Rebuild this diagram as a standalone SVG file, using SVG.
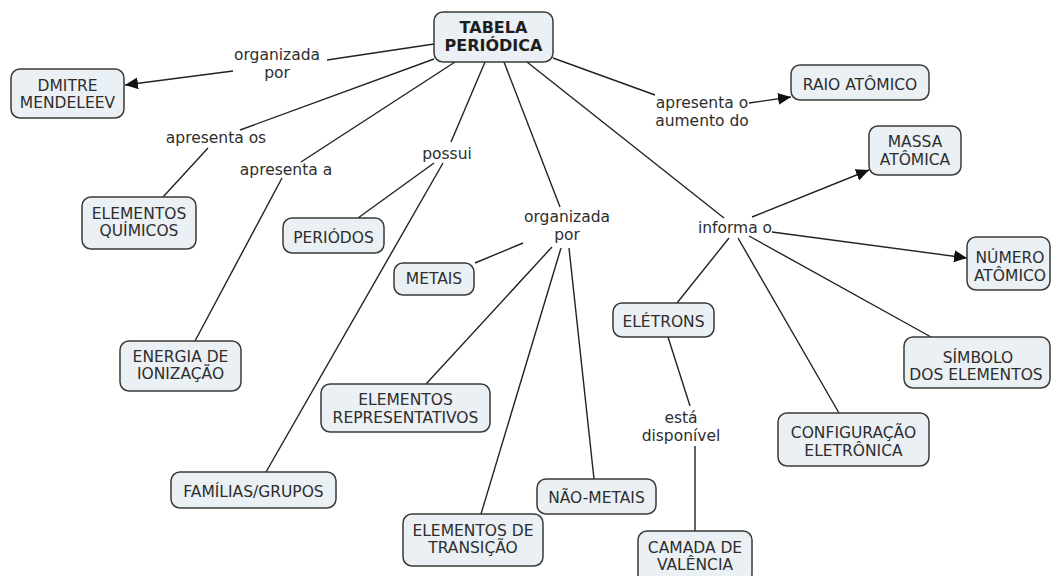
<svg xmlns="http://www.w3.org/2000/svg" width="1052" height="576" viewBox="0 0 1052 576">
  <style>
    .node rect { fill: #eaf0f3; stroke: #3a3a3a; stroke-width: 1.5; }
    .node text { font-family: "DejaVu Sans", Verdana, sans-serif; font-size: 15.5px; fill: #2e2e2e; text-anchor: middle; }
    .node.main text { font-weight: bold; font-size: 16px; fill: #1e1e1e; }
    .link line { stroke: #222; stroke-width: 1.4; fill: none; }
    .lbl { font-family: "DejaVu Sans", Verdana, sans-serif; font-size: 15.5px; fill: #2e2e2e; text-anchor: middle; }
  </style>
  <defs>
    <marker id="arrow" markerUnits="userSpaceOnUse" markerWidth="14" markerHeight="12" refX="13" refY="6" orient="auto">
      <path d="M0,0 L13,6 L0,12 z" fill="#111"/>
    </marker>
  </defs>
  <rect width="1052" height="576" fill="#ffffff"/>

  <!-- connectors -->
  <g id="connectors" class="link">
    <line x1="434" y1="44" x2="327" y2="60"/>
    <line x1="233" y1="71" x2="125" y2="85" marker-end="url(#arrow)"/>
    <line x1="434" y1="59" x2="240" y2="130"/>
    <line x1="208" y1="148" x2="163" y2="197"/>
    <line x1="455" y1="62" x2="301" y2="162"/>
    <line x1="282" y1="178" x2="195" y2="341"/>
    <line x1="485" y1="62" x2="451" y2="142"/>
    <line x1="434" y1="163" x2="358" y2="218"/>
    <line x1="443" y1="163" x2="266" y2="472"/>
    <line x1="504" y1="62" x2="560" y2="207"/>
    <line x1="523" y1="243" x2="475" y2="263"/>
    <line x1="552" y1="247" x2="426" y2="384"/>
    <line x1="561" y1="248" x2="481" y2="514"/>
    <line x1="569" y1="248" x2="594" y2="479"/>
    <line x1="527" y1="62" x2="724" y2="218"/>
    <line x1="752" y1="217" x2="869" y2="170" marker-end="url(#arrow)"/>
    <line x1="772" y1="232" x2="967" y2="258" marker-end="url(#arrow)"/>
    <line x1="729" y1="238" x2="677" y2="303"/>
    <line x1="749" y1="236" x2="931" y2="337"/>
    <line x1="738" y1="238" x2="839" y2="413"/>
    <line x1="553" y1="58" x2="655" y2="95"/>
    <line x1="749" y1="103" x2="791" y2="97" marker-end="url(#arrow)"/>
    <line x1="668" y1="337" x2="690" y2="406"/>
    <line x1="695" y1="446" x2="695" y2="531"/>
  </g>

  <!-- linking phrases -->
  <g id="labels">
    <text class="lbl" x="277" y="60">organizada</text>
    <text class="lbl" x="277" y="78">por</text>
    <text class="lbl" x="216" y="143">apresenta os</text>
    <text class="lbl" x="286" y="175">apresenta a</text>
    <text class="lbl" x="447" y="159">possui</text>
    <text class="lbl" x="567" y="222">organizada</text>
    <text class="lbl" x="567" y="240">por</text>
    <text class="lbl" x="735" y="233">informa o</text>
    <text class="lbl" x="702" y="108">apresenta o</text>
    <text class="lbl" x="702" y="126">aumento do</text>
    <text class="lbl" x="681" y="423">está</text>
    <text class="lbl" x="681" y="441">disponível</text>
  </g>

  <!-- concepts -->
  <g id="tabela-periodica" class="node main">
    <rect x="434" y="12" width="119" height="50" rx="9"/>
    <text x="493.5" y="33">TABELA</text>
    <text x="493.5" y="51">PERIÓDICA</text>
  </g>
  <g id="dmitre-mendeleev" class="node">
    <rect x="11" y="69" width="113" height="49" rx="9"/>
    <text x="67.5" y="91">DMITRE</text>
    <text x="67.5" y="108">MENDELEEV</text>
  </g>
  <g id="raio-atomico" class="node">
    <rect x="791" y="65" width="138" height="35" rx="9"/>
    <text x="860" y="90">RAIO ATÔMICO</text>
  </g>
  <g id="massa-atomica" class="node">
    <rect x="869" y="126" width="92" height="49" rx="9"/>
    <text x="915" y="147">MASSA</text>
    <text x="915" y="165">ATÔMICA</text>
  </g>
  <g id="elementos-quimicos" class="node">
    <rect x="82" y="197" width="114" height="52" rx="9"/>
    <text x="139" y="219">ELEMENTOS</text>
    <text x="139" y="236">QUÍMICOS</text>
  </g>
  <g id="periodos" class="node">
    <rect x="283" y="218" width="101" height="35" rx="9"/>
    <text x="333.5" y="243">PERIÓDOS</text>
  </g>
  <g id="metais" class="node">
    <rect x="394" y="263" width="80" height="32" rx="9"/>
    <text x="434" y="284">METAIS</text>
  </g>
  <g id="numero-atomico" class="node">
    <rect x="967" y="237" width="83" height="53" rx="9"/>
    <text x="1010" y="263">NÚMERO</text>
    <text x="1010" y="281">ATÔMICO</text>
  </g>
  <g id="eletrons" class="node">
    <rect x="613" y="303" width="101" height="34" rx="9"/>
    <text x="663.5" y="327">ELÉTRONS</text>
  </g>
  <g id="energia-ionizacao" class="node">
    <rect x="120" y="341" width="121" height="50" rx="9"/>
    <text x="180.5" y="362">ENERGIA DE</text>
    <text x="180.5" y="379">IONIZAÇÃO</text>
  </g>
  <g id="simbolo-elementos" class="node">
    <rect x="904" y="337" width="146" height="51" rx="9"/>
    <text x="978" y="363">SÍMBOLO</text>
    <text x="976" y="380">DOS ELEMENTOS</text>
  </g>
  <g id="elementos-representativos" class="node">
    <rect x="321" y="384" width="169" height="48" rx="9"/>
    <text x="405.5" y="405">ELEMENTOS</text>
    <text x="405.5" y="423">REPRESENTATIVOS</text>
  </g>
  <g id="configuracao-eletronica" class="node">
    <rect x="778" y="413" width="151" height="53" rx="9"/>
    <text x="853.5" y="438">CONFIGURAÇÃO</text>
    <text x="853.5" y="456">ELETRÔNICA</text>
  </g>
  <g id="familias-grupos" class="node">
    <rect x="171" y="472" width="165" height="36" rx="9"/>
    <text x="253.5" y="497">FAMÍLIAS/GRUPOS</text>
  </g>
  <g id="nao-metais" class="node">
    <rect x="537" y="479" width="119" height="35" rx="9"/>
    <text x="596.5" y="503">NÃO-METAIS</text>
  </g>
  <g id="elementos-transicao" class="node">
    <rect x="403" y="514" width="140" height="52" rx="9"/>
    <text x="473" y="536">ELEMENTOS DE</text>
    <text x="473" y="553">TRANSIÇÃO</text>
  </g>
  <g id="camada-valencia" class="node">
    <rect x="638" y="531" width="114" height="52" rx="9"/>
    <text x="695" y="553">CAMADA DE</text>
    <text x="695" y="570">VALÊNCIA</text>
  </g>
</svg>
